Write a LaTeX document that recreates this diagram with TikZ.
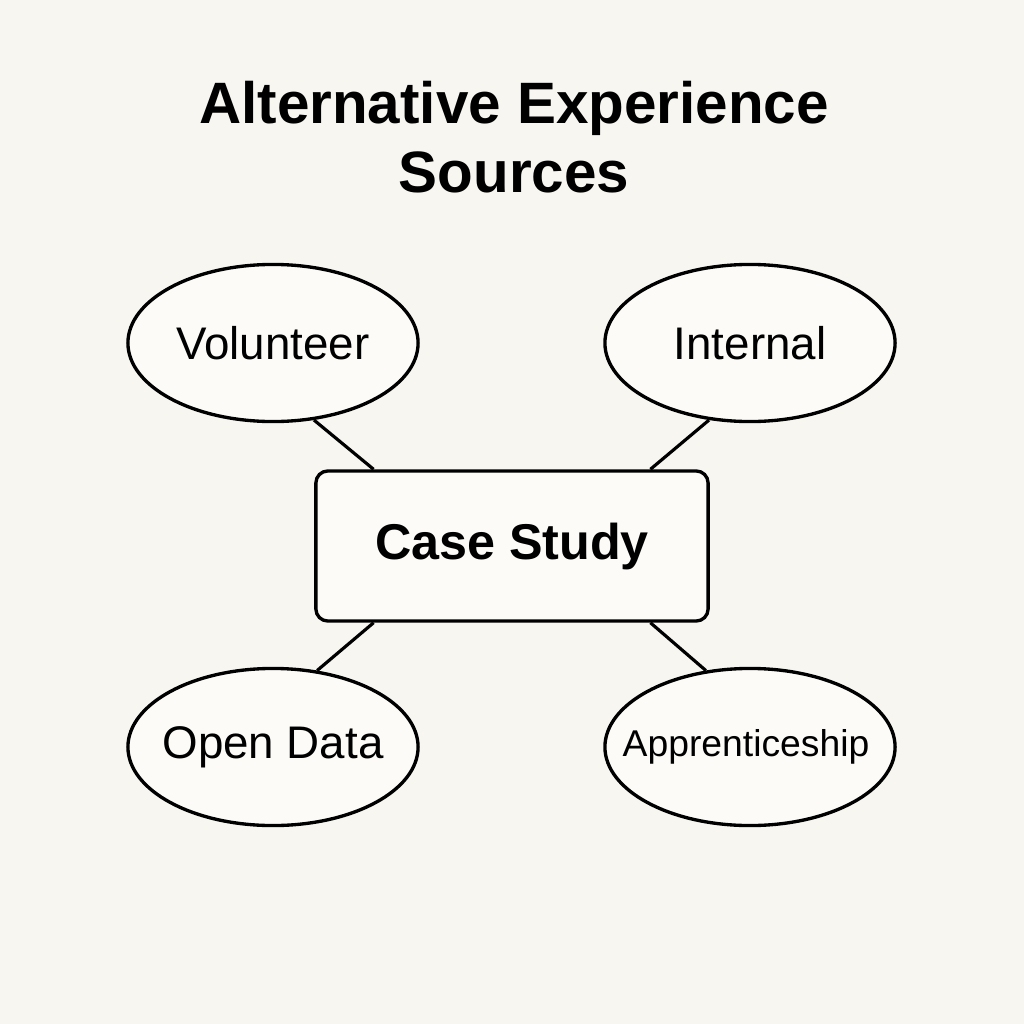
\documentclass[tikz,border=0pt]{standalone}
\usepackage{fontspec}
\setmainfont{Liberation Sans}
\usetikzlibrary{shapes.geometric}
\definecolor{bgc}{HTML}{F8F6F1}
\definecolor{fillc}{HTML}{FCFBF8}
\newcommand{\fixw}[1]{\makebox[0pt]{#1}}
\begin{document}
\begin{tikzpicture}[x=0.01cm,y=-0.01cm,
  oval/.style={ellipse,draw=black,line width=0.95pt,fill=fillc,minimum width=2.9cm,minimum height=1.57cm,inner sep=0pt},
  casebox/.style={rectangle,rounded corners=0.12cm,draw=black,line width=0.95pt,fill=fillc,minimum width=3.92cm,minimum height=1.5cm},
  link/.style={line width=0.9pt,draw=black}]
\fill[bgc] (0,0) rectangle (1024,1024);
\useasboundingbox (0,0) rectangle (1024,1024);
\node[font=\fontsize{16.6}{19.5}\selectfont\bfseries,align=center] (title) at (514,137) {Alternative Experience\\Sources};
\node[casebox,font=\fontsize{14.3}{17}\selectfont\bfseries] (cs) at (512,546) {Case Study};
\node[oval,font=\fontsize{13}{16}\selectfont] (vol) at (273,343) {\fixw{Volunteer}};
\node[oval,font=\fontsize{13}{16}\selectfont] (int) at (750,343) {\fixw{Internal}};
\node[oval,font=\fontsize{13}{16}\selectfont] (od) at (273,747) {\fixw{Open Data}};
\node[oval,font=\fontsize{10.6}{14}\selectfont] (app) at (750,747) {\fixw{\hspace*{-0.08cm}Apprenticeship}};
\draw[link] (vol.-62) -- (cs.151);
\draw[link] (int.-118) -- (cs.29);
\draw[link] (od.60) -- (cs.-151);
\draw[link] (app.120) -- (cs.-29);
\end{tikzpicture}
\end{document}
